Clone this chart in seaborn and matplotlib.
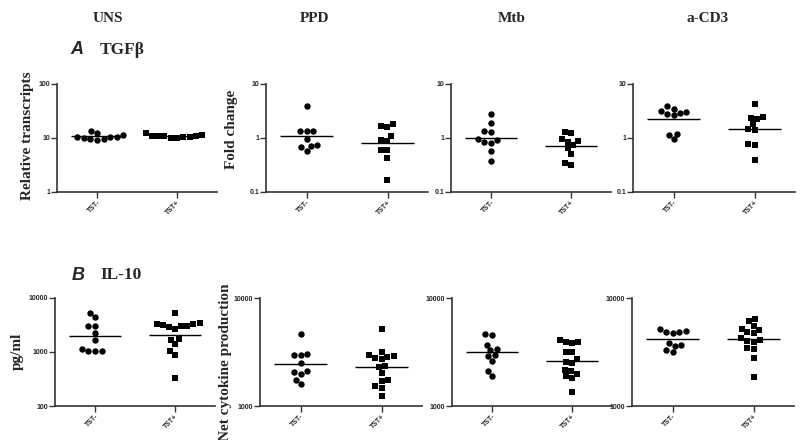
import numpy as np
import pandas as pd
import seaborn as sns
import matplotlib.pyplot as plt
from matplotlib.ticker import FixedLocator, NullLocator

# Data (TST- / TST+ groups)
groups = ["TST-", "TST+"]

# A: TGFb relative transcripts / fold change
tgf_uns_neg = [11.2, 10.4, 9.6, 12.5, 13.5, 9.2, 10.0, 9.4, 10.3, 10.6]
tgf_uns_pos = [10.8, 10.5, 11.0, 10.2, 11.5, 10.0, 10.8, 12.5, 10.5, 10.8]
tgf_ppd_neg = [3.97, 1.33, 1.33, 1.33, 0.97, 0.72, 0.68, 0.75, 0.58]
tgf_ppd_pos = [1.84, 1.58, 1.69, 1.10, 0.905, 0.89, 0.61, 0.61, 0.42, 0.17]
tgf_mtb_neg = [2.8, 1.88, 1.35, 1.31, 0.905, 0.80, 0.83, 0.94, 0.57, 0.37]
tgf_mtb_pos = [1.29, 1.26, 0.87, 0.84, 0.96, 0.73, 0.64, 0.51, 0.34, 0.31]
tgf_cd3_neg = [3.5, 2.95, 2.78, 3.86, 2.63, 2.98, 3.12, 1.2, 0.945, 1.14]
tgf_cd3_pos = [4.26, 2.35, 2.25, 2.48, 1.82, 1.41, 1.45, 0.785, 0.73, 0.39]
tgf_lines = [[10.8, 11.0], [1.10, 0.81], [1.01, 0.70], [2.25, 1.47]]

# B: IL-10 pg/ml / net cytokine production
il10_uns_neg = [5170, 4360, 3040, 3040, 2280, 1640, 1035, 1035, 1035, 1130]
il10_uns_pos = [5170, 3310, 3040, 2920, 3460, 2710, 3040, 3170, 3360,
                1690, 1710, 1400, 1050, 885, 325]
il10_ppd_neg = [4660, 2955, 2955, 3040, 2490, 2100, 2070, 1995, 1745, 1590]
il10_ppd_pos = [5150, 2960, 2790, 2910, 3130, 2870, 2730, 2340, 2300, 2040,
                1730, 1700, 1520, 1460, 1230]
il10_mtb_neg = [4660, 4560, 3710, 3310, 3380, 2910, 2980, 2630, 2130, 1910]
il10_mtb_pos = [4100, 3900, 3820, 3900, 3150, 3170, 2730, 2580, 2520, 2160,
                2130, 1995, 1900, 1830, 1350]
il10_cd3_neg = [5140, 4880, 4720, 4820, 4930, 3830, 3570, 3670, 3320, 3140]
il10_cd3_pos = [6370, 6060, 5480, 5210, 5020, 4750, 4850, 4060, 3920, 3990,
                4220, 3370, 3470, 2760, 1840]
il10_lines = [[1980, 2060], [2440, 2320], [3130, 2620], [4150, 4150]]

col_titles = ["UNS", "PPD", "Mtb", "a-CD3"]
tgf_ticks = [[1, 10, 100], [0.1, 1, 10], [0.1, 1, 10], [0.1, 1, 10]]
il10_ticks = [[100, 1000, 10000], [1000, 10000], [1000, 10000], [1000, 10000]]

sns.set_style("ticks")
plt.rcParams["font.family"] = ["Liberation Sans", "DejaVu Sans"]
plt.rcParams["font.weight"] = "bold"

fig = plt.figure(figsize=(8, 4.4), dpi=100)


def rect(left, top, w, h):
    return [left / 800, 1 - (top + h) / 440, w / 800, h / 440]


def panel(ax, neg, pos, lines, ticks):
    df = pd.DataFrame({"group": ["TST-"] * len(neg) + ["TST+"] * len(pos),
                       "value": neg + pos})
    sns.swarmplot(data=df[df.group == "TST-"], x="group", y="value", order=groups,
                  marker="o", color="black", size=4.6, linewidth=0, ax=ax, log_scale=True)
    sns.swarmplot(data=df[df.group == "TST+"], x="group", y="value", order=groups,
                  marker="s", color="black", size=4.4, linewidth=0, ax=ax, log_scale=True)
    for i, v in enumerate(lines):
        ax.hlines(v, i - 0.33, i + 0.33, color="black", lw=1)
    ax.set_xlim(-0.5, 1.5)
    ax.set_ylim(ticks[0], ticks[-1])
    ax.yaxis.set_major_locator(FixedLocator(ticks))
    ax.yaxis.set_minor_locator(NullLocator())
    ax.set_yticklabels([f"{t:g}" for t in ticks])
    ax.set_xlabel("")
    ax.set_ylabel("")
    ax.tick_params(axis="both", labelsize=5, length=4, width=1, pad=1, color="#333333")
    for lab in ax.get_xticklabels():
        lab.set_rotation(45)
        lab.set_ha("right")
        lab.set_rotation_mode("anchor")
    for s in ["left", "bottom"]:
        ax.spines[s].set_color("#333333")
        ax.spines[s].set_linewidth(1.2)
    sns.despine(ax=ax)


tgf_data = [(tgf_uns_neg, tgf_uns_pos), (tgf_ppd_neg, tgf_ppd_pos),
            (tgf_mtb_neg, tgf_mtb_pos), (tgf_cd3_neg, tgf_cd3_pos)]
il10_data = [(il10_uns_neg, il10_uns_pos), (il10_ppd_neg, il10_ppd_pos),
             (il10_mtb_neg, il10_mtb_pos), (il10_cd3_neg, il10_cd3_pos)]

top_lefts = [(57, 160), (266, 162), (451, 160), (633, 162)]
bot_lefts = [(55, 160), (260, 162), (452, 160), (632, 162)]

for k in range(4):
    ax = fig.add_axes(rect(top_lefts[k][0], 84, top_lefts[k][1], 108))
    panel(ax, tgf_data[k][0], tgf_data[k][1], tgf_lines[k], tgf_ticks[k])
    ax = fig.add_axes(rect(bot_lefts[k][0], 298, bot_lefts[k][1], 108))
    panel(ax, il10_data[k][0], il10_data[k][1], il10_lines[k], il10_ticks[k])

serif = ["Liberation Serif", "DejaVu Serif"]
for x, t in zip([108, 315, 512, 708], col_titles):
    fig.text(x / 800, 1 - 18 / 440, t, family=serif, fontsize=11, ha="center", va="center")

fig.text(77 / 800, 1 - 50 / 440, "A", fontsize=13, style="italic", ha="center", va="center")
fig.text(100 / 800, 1 - 50 / 440, "TGFβ", family=serif, fontsize=12.5, ha="left", va="center")
fig.text(78 / 800, 1 - 275 / 440, "B", fontsize=13, style="italic", ha="center", va="center")
fig.text(100 / 800, 1 - 275 / 440, "IL-10", family=serif, fontsize=12.5, ha="left", va="center")

fig.text(27 / 800, 1 - 136 / 440, "Relative transcripts", family=serif, fontsize=11,
         rotation=90, ha="center", va="center")
fig.text(232 / 800, 1 - 129 / 440, "Fold change", family=serif, fontsize=11,
         rotation=90, ha="center", va="center")
fig.text(17 / 800, 1 - 351 / 440, "pg/ml", family=serif, fontsize=11,
         rotation=90, ha="center", va="center")
fig.text(226 / 800, 1 - 362 / 440, "Net cytokine production", family=serif, fontsize=11,
         rotation=90, ha="center", va="center")

fig.savefig("out.png", dpi=100, facecolor="white")
